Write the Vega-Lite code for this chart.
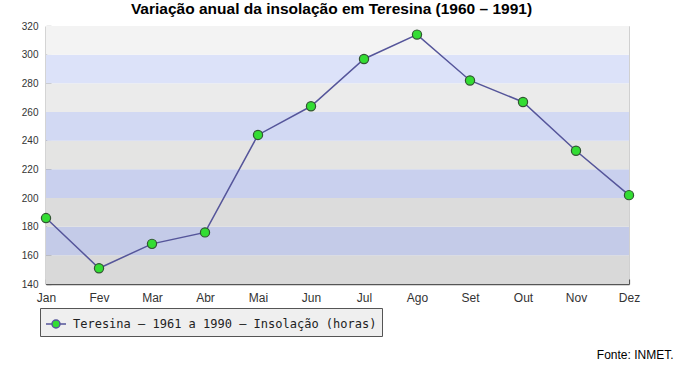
{
  "$schema": "https://vega.github.io/schema/vega-lite/v6.json",
  "autosize": "none",
  "width": 583,
  "height": 258,
  "padding": {"left": 46, "top": 26, "right": 57, "bottom": 81},
  "background": "#ffffff",
  "title": {
    "text": "Variação anual da insolação em Teresina (1960 – 1991)",
    "font": "Liberation Sans",
    "fontSize": 15.5,
    "fontWeight": "bold",
    "color": "#000000",
    "anchor": "middle",
    "dx": -6,
    "offset": 4
  },
  "config": {
    "view": {"stroke": "#d0d0d0", "strokeWidth": 1},
    "axis": {
      "labelFont": "Liberation Sans",
      "labelColor": "#333333",
      "domainColor": "#555555",
      "domainWidth": 1.5,
      "ticks": true,
      "tickColor": "#555555",
      "tickWidth": 1.2,
      "tickSize": -5,
      "grid": false,
      "labelOverlap": false,
      "zindex": 1
    },
    "axisY": {
      "values": [140, 150, 160, 170, 180, 190, 200, 210, 220, 230, 240, 250, 260, 270, 280, 290, 300, 310, 320],
      "labelExpr": "datum.value % 20 == 0 ? datum.label : ''",
      "labelFontSize": 10,
      "labelPadding": 13,
      "labelOverlap": false,
      "labelFlush": false
    }
  },
  "datasets": {
    "bands": [
      {"y0": 140, "y1": 160},
      {"y0": 160, "y1": 180},
      {"y0": 180, "y1": 200},
      {"y0": 200, "y1": 220},
      {"y0": 220, "y1": 240},
      {"y0": 240, "y1": 260},
      {"y0": 260, "y1": 280},
      {"y0": 280, "y1": 300},
      {"y0": 300, "y1": 320}
    ],
    "months": [
      {"mes": "Jan", "horas": 186},
      {"mes": "Fev", "horas": 151},
      {"mes": "Mar", "horas": 168},
      {"mes": "Abr", "horas": 176},
      {"mes": "Mai", "horas": 244},
      {"mes": "Jun", "horas": 264},
      {"mes": "Jul", "horas": 297},
      {"mes": "Ago", "horas": 314},
      {"mes": "Set", "horas": 282},
      {"mes": "Out", "horas": 267},
      {"mes": "Nov", "horas": 233},
      {"mes": "Dez", "horas": 202}
    ]
  },
  "layer": [
    {
      "data": {"name": "bands"},
      "mark": {"type": "rect"},
      "encoding": {
        "y": {"field": "y0", "type": "quantitative", "scale": {"domain": [140, 320], "nice": false, "zero": false}, "axis": {"title": null}},
        "y2": {"field": "y1"},
        "fill": {
          "field": "y0",
          "type": "ordinal",
          "legend": null,
          "scale": {
            "domain": [140, 160, 180, 200, 220, 240, 260, 280, 300],
            "range": ["#d9d9d9", "#c4cbe8", "#dcdcdc", "#c9d0ee", "#e4e4e3", "#d2d9f3", "#ebebeb", "#dce2f9", "#f3f3f3"]
          }
        }
      }
    },
    {
      "data": {"name": "months"},
      "mark": {"type": "line", "strokeWidth": 1.5},
      "encoding": {
        "x": {
          "field": "mes",
          "type": "ordinal",
          "sort": null,
          "scale": {"type": "point", "padding": 0},
          "axis": {
            "title": "Fonte: INMET.",
            "titleFont": "Liberation Sans",
            "titleFontSize": 12,
            "titleFontWeight": "normal",
            "titleColor": "#000000",
            "titleAnchor": "end",
            "titleAlign": "right",
            "titleBaseline": "alphabetic",
            "titleX": 627,
            "titleY": 74,
            "labelAngle": 0,
            "labelFontSize": 12,
            "labelPadding": 13
          }
        },
        "y": {
          "field": "horas",
          "type": "quantitative",
          "scale": {"domain": [140, 320], "nice": false, "zero": false},
          "axis": {"title": null}
        },
        "color": {
          "datum": "Teresina – 1961 a 1990 – Insolação (horas)",
          "type": "nominal",
          "scale": {"range": ["#55559a"]},
          "legend": {
            "title": null,
            "orient": "none",
            "legendX": -6,
            "legendY": 282,
            "fillColor": "#efefef",
            "strokeColor": "#555555",
            "padding": 5,
            "labelFont": "DejaVu Sans Mono",
            "labelFontSize": 12,
            "labelColor": "#222222",
            "labelOffset": 6,
            "labelLimit": 500,
            "symbolType": "M-1,0L-0.4,0M0.4,0L1,0M0.4,0A0.4,0.4 0 1,1 -0.4,0A0.4,0.4 0 1,1 0.4,0Z",
            "symbolSize": 400,
            "symbolStrokeWidth": 1.5,
            "encode": {
              "symbols": {"update": {"fill": {"value": "#33dd33"}, "stroke": {"value": "#336633"}}}
            }
          }
        }
      }
    },
    {
      "data": {"name": "months"},
      "mark": {"type": "point", "filled": true, "fill": "#33dd33", "stroke": "#335533", "strokeWidth": 1.2, "size": 85, "opacity": 1},
      "encoding": {
        "x": {"field": "mes", "type": "ordinal", "sort": null},
        "y": {"field": "horas", "type": "quantitative"}
      }
    }
  ]
}
